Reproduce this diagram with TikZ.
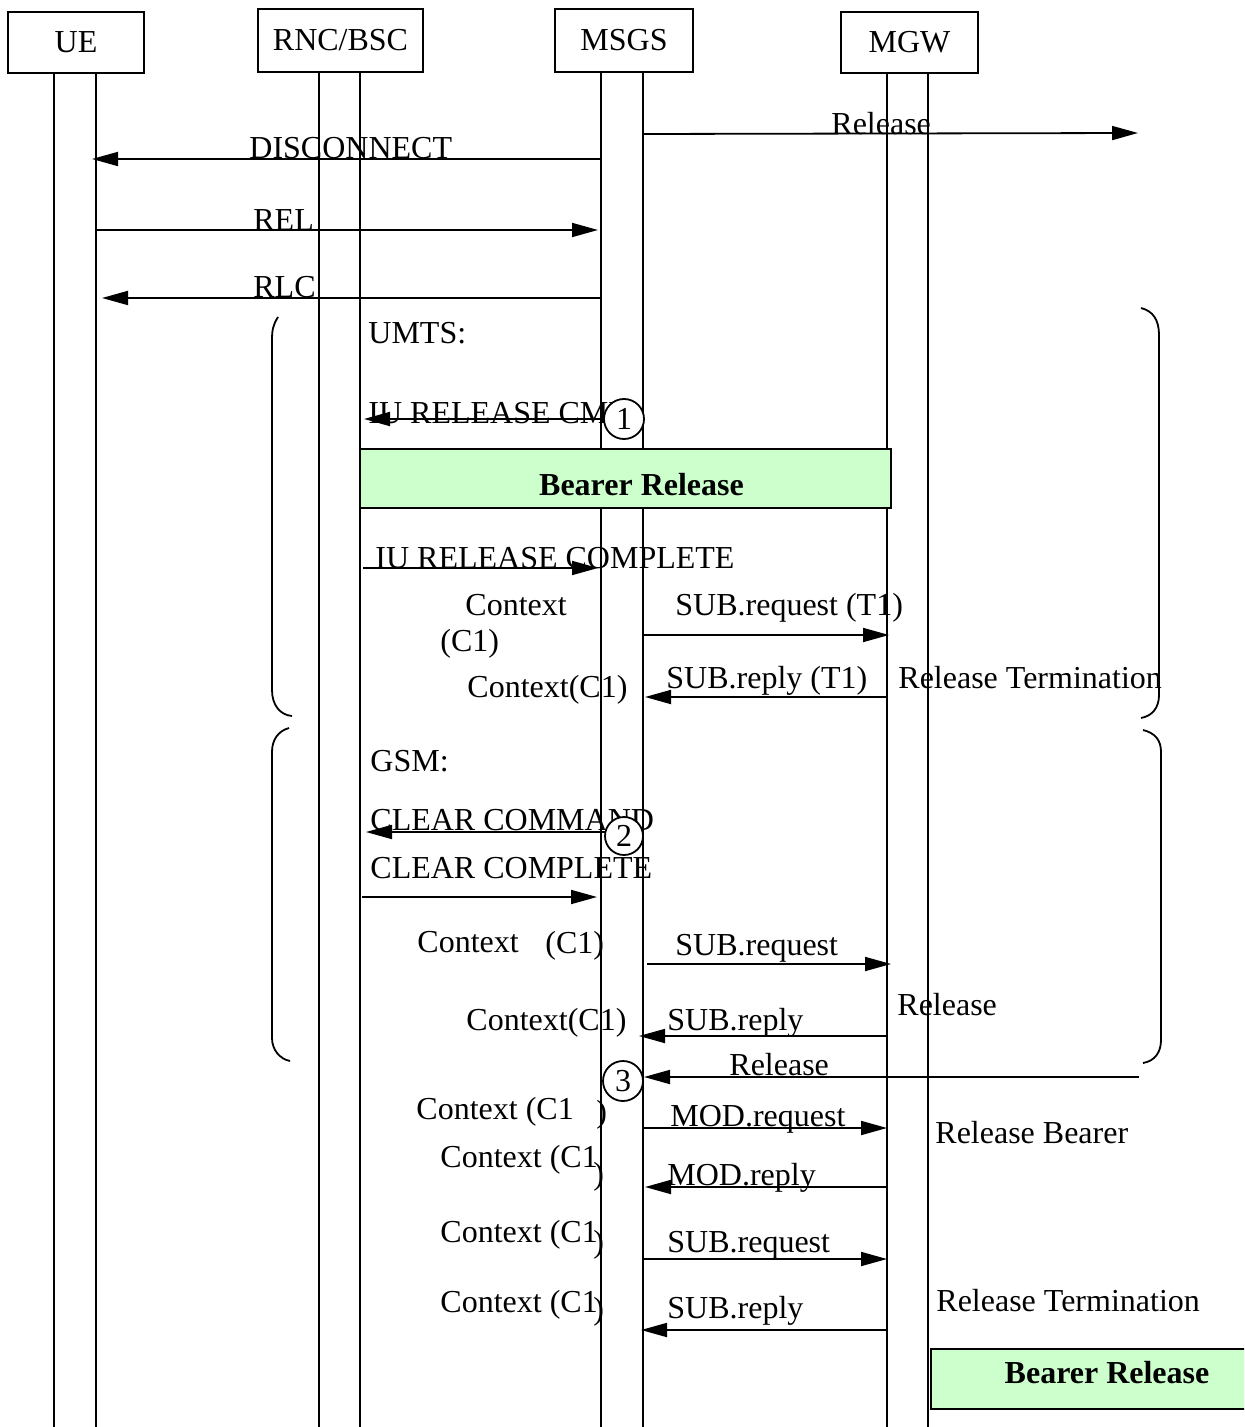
\documentclass[tikz,border=0pt]{standalone}
\usepackage{fontspec}
\setmainfont{Liberation Serif}
\usetikzlibrary{arrows.meta}
\definecolor{bg}{RGB}{204,255,204}
\begin{document}
\begin{tikzpicture}[x=0.5pt,y=-0.5pt,
 txt/.style={inner sep=0pt, anchor=base west, font=\fontsize{16}{19}\selectfont},
 btxt/.style={inner sep=0pt, anchor=base, font=\fontsize{16}{19}\selectfont\bfseries},
 hdr/.style={draw, line width=1pt, inner sep=0pt, font=\fontsize{16}{19}\selectfont},
 life/.style={line width=0.75pt},
 msg/.style={line width=0.9pt, -{Triangle[length=13pt,width=7pt]}},
 num/.style={circle, draw, fill=white, line width=0.9pt, minimum size=20pt, inner sep=0pt, font=\fontsize{16}{19}\selectfont},
 brace/.style={line width=0.9pt},
 bearer/.style={draw, line width=0.8pt, fill=bg, inner sep=0pt}
]
\useasboundingbox (0,0) rectangle (1244,1427);
\clip (0,0) rectangle (1244,1427);
% headers
\node[hdr, minimum width=68pt, minimum height=30.5pt] (ue) at (76,42.5) {UE};
\node[hdr, minimum width=82.5pt, minimum height=31.5pt] (rnc) at (340.5,40.5) {RNC/BSC};
\node[hdr, minimum width=69pt, minimum height=31.5pt] (msc) at (624,40.5) {MSGS};
\node[hdr, minimum width=68.5pt, minimum height=30.5pt] (mgw) at (909.5,42.5) {MGW};
% lifelines
\draw[life] (ue.south -| 54,0) -- (54,1427);
\draw[life] (ue.south -| 96,0) -- (96,1427);
\draw[life] (rnc.south -| 319,0) -- (319,1427);
\draw[life] (rnc.south -| 360,0) -- (360,1427);
\draw[life] (msc.south -| 601,0) -- (601,1427);
\draw[life] (msc.south -| 643,0) -- (643,1427);
\draw[life] (mgw.south -| 887,0) -- (887,1427);
\draw[life] (mgw.south -| 928,0) -- (928,1427);
% bearer boxes
\node[bearer, minimum width=265.5pt, minimum height=29.5pt] (br1) at (625.5,478.5) {};
\node[btxt] at (641.5,495) {Bearer Release};
\node[bearer, minimum width=180pt, minimum height=30pt] (br2) at (1111,1379) {};
\node[btxt] at (1107,1383) {Bearer Release};
% braces
\draw[brace] (278,317) .. controls (273,325) and (272,330) .. (272,340) -- (272,690) .. controls (272,705) and (280,715) .. (292,716);
\draw[brace] (289,728) .. controls (278,731) and (272,740) .. (272,752) -- (272,1038) .. controls (272,1050) and (280,1059) .. (290,1061);
\draw[brace] (1141,308) .. controls (1153,311) and (1159,320) .. (1159,335) -- (1159,695) .. controls (1159,708) and (1152,716) .. (1141,718);
\draw[brace] (1143,730) .. controls (1155,733) and (1161,740) .. (1161,752) -- (1161,1040) .. controls (1161,1052) and (1155,1061) .. (1143,1063);
% message end points
\coordinate (m1a) at (643,134);  \coordinate (m1b) at (1138,133);
\coordinate (m2a) at (601,159);  \coordinate (m2b) at (92,159);
\coordinate (m3a) at (96,230);   \coordinate (m3b) at (598,230);
\coordinate (m4a) at (601,298);  \coordinate (m4b) at (102,298);
\coordinate (m5a) at (605,419);  \coordinate (m5b) at (364,419);
\coordinate (m6a) at (363,568);  \coordinate (m6b) at (598,568);
\coordinate (m7a) at (643,635);  \coordinate (m7b) at (889,635);
\coordinate (m8a) at (888,697);  \coordinate (m8b) at (645,697);
\coordinate (m9a) at (605,832);  \coordinate (m9b) at (366,832);
\coordinate (m10a) at (362,897); \coordinate (m10b) at (597,897);
\coordinate (m11a) at (647,964); \coordinate (m11b) at (891,964);
\coordinate (m12a) at (887,1036); \coordinate (m12b) at (639,1036);
\coordinate (m13a) at (1139,1077); \coordinate (m13b) at (644,1077);
\coordinate (m14a) at (643,1128); \coordinate (m14b) at (887,1128);
\coordinate (m15a) at (887,1187); \coordinate (m15b) at (645,1187);
\coordinate (m16a) at (643,1259); \coordinate (m16b) at (887,1259);
\coordinate (m17a) at (887,1330); \coordinate (m17b) at (641,1330);
\foreach \i in {1,...,17} {\draw[msg] (m\i a) -- (m\i b);}
% labels
\node[txt] at (831,135) {Release};
\node[txt] at (249,159) {DISCONNECT};
\node[txt] at (253,231) {REL};
\node[txt] at (253,298) {RLC};
\node[txt] at (368,344) {UMTS:};
\node[txt] at (368,423) {IU RELEASE CMD};
\node[txt] at (375,568) {IU RELEASE COMPLETE};
\node[txt] at (465,615) {Context};
\node[txt] at (440,651) {(C1)};
\node[txt] at (675,615) {SUB.request (T1)};
\node[txt] at (666,688) {SUB.reply (T1)};
\node[txt] at (467,697) {Context(C1)};
\node[txt] at (898,688) {Release Termination};
\node[txt] at (370,771) {GSM:};
\node[txt] at (370,830) {CLEAR COMMAND};
\node[txt] at (370,878) {CLEAR COMPLETE};
\node[txt] at (417,952) {Context};
\node[txt] at (545,953) {(C1)};
\node[txt] at (675,955) {SUB.request};
\node[txt] at (897,1015) {Release};
\node[txt] at (466,1030) {Context(C1)};
\node[txt] at (667,1030) {SUB.reply};
\node[txt] at (729,1075) {Release};
\node[txt] at (416,1119) {Context (C1};
\node[txt] at (596,1122) {)};
\node[txt] at (670,1126) {MOD.request};
\node[txt] at (935,1143) {Release Bearer};
\node[txt] at (440,1167) {Context (C1};
\node[txt] at (593,1184) {)};
\node[txt] at (667,1185) {MOD.reply};
\node[txt] at (440,1242) {Context (C1};
\node[txt] at (593,1252) {)};
\node[txt] at (667,1252) {SUB.request};
\node[txt] at (936,1311) {Release Termination};
\node[txt] at (440,1312) {Context (C1};
\node[txt] at (593,1319) {)};
\node[txt] at (667,1318) {SUB.reply};
% numbered circles
\node[num] (c1) at (624,419) {1};
\node[num, minimum size=19pt] (c2) at (624,836) {2};
\node[num] (c3) at (623,1081) {3};
\end{tikzpicture}
\end{document}
